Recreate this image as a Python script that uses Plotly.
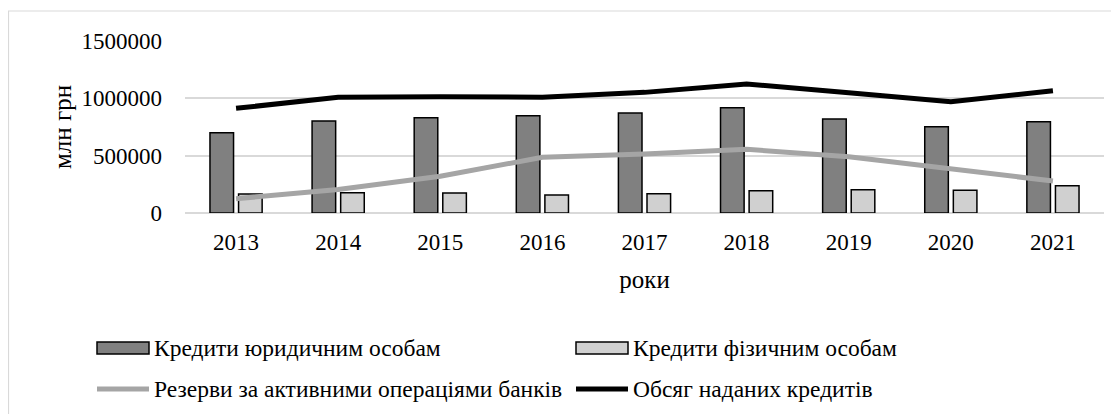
import plotly.graph_objects as go

years = ["2013", "2014", "2015", "2016", "2017", "2018", "2019", "2020", "2021"]
legal_credits = [700000, 802000, 831000, 849000, 872000, 918000, 820000, 753000, 796000]
personal_credits = [166000, 177000, 174000, 157000, 168000, 195000, 203000, 198000, 238000]
reserves = [125000, 205000, 320000, 486000, 514000, 555000, 491000, 381000, 279000]
total_credits = [913000, 1009000, 1014000, 1009000, 1052000, 1125000, 1048000, 971000, 1066000]

names = ["Кредити юридичним особам", "Кредити фізичним особам",
         "Резерви за активними операціями банків", "Обсяг наданих кредитів"]
y_ticks = [0, 500000, 1000000, 1500000]
y_title = "млн грн"
x_title = "роки"

FONT = "Liberation Serif, DejaVu Serif, serif"
OFF = 8  # page body margin
W, H = 1119 - OFF, 414 - OFF
# desired plot area in window pixels: x 185..1104, y 41..213
L, R, T, B = 185 - OFF, 15, 41 - OFF, 414 - 213
PW = W - L - R
PH = H - T - B


def px_x(px):
    return (px - 185) / PW


def px_y(py):
    return (213 - py) / PH


fig = go.Figure()
fig.add_trace(go.Bar(x=years, y=legal_credits, name=names[0],
                     marker=dict(color="#808080", line=dict(color="#000000", width=1.5)),
                     showlegend=False))
fig.add_trace(go.Bar(x=years, y=personal_credits, name=names[1],
                     marker=dict(color="#d0d0d0", line=dict(color="#000000", width=1.5)),
                     showlegend=False))
fig.add_trace(go.Scatter(x=years, y=reserves, name=names[2], mode="lines",
                         line=dict(color="#a5a5a5", width=5), showlegend=False))
fig.add_trace(go.Scatter(x=years, y=total_credits, name=names[3], mode="lines",
                         line=dict(color="#000000", width=5), showlegend=False))

shapes = [
    # outer chart border
    dict(type="rect", xref="paper", yref="paper",
         x0=px_x(8.5), x1=px_x(1135), y0=px_y(440), y1=px_y(11),
         line=dict(color="#d9d9d9", width=1.2), fillcolor="rgba(0,0,0,0)", layer="below"),
]
annotations = [
    # y-axis title
    dict(text=y_title, xref="paper", yref="paper", x=px_x(62), y=0.5,
         xanchor="center", yanchor="middle", textangle=-90, showarrow=False,
         font=dict(family=FONT, size=25, color="#000000")),
]

# manual legend (wide keys like the original)
legend_items = [
    (names[0], "rect", "#808080", 97, 149, 348),
    (names[1], "rect", "#d0d0d0", 576, 628, 348),
    (names[2], "line", "#a5a5a5", 97, 149, 389),
    (names[3], "line", "#000000", 576, 628, 389),
]
for text, kind, color, xa, xb, yc in legend_items:
    if kind == "rect":
        shapes.append(dict(type="rect", xref="paper", yref="paper",
                           x0=px_x(xa), x1=px_x(xb), y0=px_y(yc + 6), y1=px_y(yc - 6),
                           fillcolor=color, line=dict(color="#000000", width=1.5)))
    else:
        shapes.append(dict(type="line", xref="paper", yref="paper",
                           x0=px_x(xa), x1=px_x(xb), y0=px_y(yc), y1=px_y(yc),
                           line=dict(color=color, width=5)))
    annotations.append(dict(text=text, xref="paper", yref="paper",
                            x=px_x(xb + 3), y=px_y(yc), xanchor="left", yanchor="middle",
                            showarrow=False, font=dict(family=FONT, size=23.5, color="#000000")))

fig.update_layout(
    width=W, height=H,
    margin=dict(l=L, r=R, t=T, b=B, pad=0),
    paper_bgcolor="#ffffff", plot_bgcolor="#ffffff",
    barmode="group", bargap=0.44, bargroupgap=0.175,
    font=dict(family=FONT, size=23, color="#000000"),
    showlegend=False,
    shapes=shapes, annotations=annotations,
    xaxis=dict(type="category", showgrid=False, zeroline=False, showline=False,
               ticks="", ticklabelstandoff=13,
               tickfont=dict(family=FONT, size=23, color="#000000"),
               title=dict(text=x_title, standoff=16,
                          font=dict(family=FONT, size=25, color="#000000"))),
    yaxis=dict(range=[0, 1500000], tickvals=y_ticks, tickformat="d",
               showgrid=True, gridcolor="#d9d9d9", gridwidth=1.5,
               zeroline=True, zerolinecolor="#d9d9d9", zerolinewidth=1.5,
               showline=False, ticks="", ticklabelstandoff=22,
               tickfont=dict(family=FONT, size=23, color="#000000")),
)

fig.write_html("out.html")
